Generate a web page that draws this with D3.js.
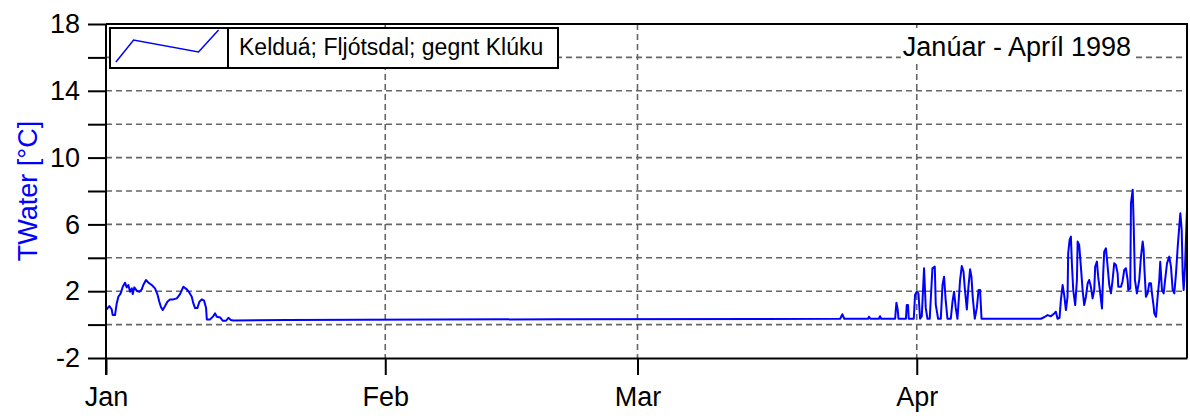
<!DOCTYPE html>
<html>
<head>
<meta charset="utf-8">
<script src="https://cdn.jsdelivr.net/npm/d3@7"></script>
<style>
  body { margin: 0; background: #fff; }
  svg { display: block; font-family: "Liberation Sans", Arial, sans-serif; }
  .grid line { stroke: #666; stroke-width: 1.6; stroke-dasharray: 6,4; }
</style>
</head>
<body>
<div id="chart"></div>
<script>
/* DATA */
// time in days since 1 Jan 1998, water temperature in °C
const days = [
  0, 0.37, 0.63, 0.74, 1.0, 1.19, 1.37, 1.63, 1.86, 2.11, 2.3, 2.48, 2.67, 2.86, 2.97,
  3.14, 3.41, 3.7, 3.97, 4.14, 4.44, 4.7, 5.08, 5.44, 5.7, 5.92, 6.11, 6.3, 6.56, 6.81,
  7.11, 7.48, 7.86, 8.22, 8.59, 8.97, 9.26, 9.52, 9.7, 9.89, 10.14, 10.37, 10.63, 10.89,
  11.11, 11.19, 11.56, 11.92, 12.11, 12.3, 12.67, 12.97, 13.33, 13.59, 13.86, 14.14,
  20.0, 50.0, 81.5, 81.74, 81.95, 84.6, 84.7, 84.85, 85.8, 85.92, 86.05,
  87.6, 87.74, 87.89, 87.97, 88.8, 88.89, 89.03, 89.11, 89.67, 89.81, 90.0, 90.19,
  90.37, 90.56, 90.81, 91.0, 91.19, 91.44, 91.74, 92.0, 92.11, 92.37, 92.67, 92.86,
  93.03, 93.22, 93.41, 93.78, 93.97, 94.14, 94.33, 94.52, 94.81, 95.0, 95.19, 95.33,
  95.56, 95.74, 95.92, 96.07, 96.22, 96.44, 96.67, 96.86, 97.03, 97.19,
  103.78, 104.14, 104.52, 104.89, 105.26, 105.44, 105.63, 105.85,
  106.0, 106.19, 106.37, 106.56, 106.74, 106.81, 106.97, 107.11, 107.22, 107.37, 107.59,
  107.78, 107.86, 108.03, 108.22, 108.41, 108.59, 108.78, 108.97, 109.14, 109.33, 109.52,
  109.7, 109.81, 110.0, 110.14, 110.37, 110.56, 110.7, 110.81, 111.0, 111.19, 111.37,
  111.56, 111.74, 111.92, 112.11, 112.3, 112.37, 112.67, 112.85, 113.03, 113.22, 113.41,
  113.48, 113.7, 113.78, 113.97, 114.08, 114.22, 114.44, 114.7, 114.89, 115.08, 115.19,
  115.26, 115.44, 115.63, 115.81, 116.0, 116.11, 116.3, 116.37, 116.56, 116.74, 116.92,
  117.03, 117.22, 117.41, 117.59, 117.78, 118.03, 118.22, 118.41, 118.59, 118.78, 118.97,
  119.14, 119.26, 119.41, 119.52, 119.63, 119.78, 119.92, 120.0
];
const temps = [
  0.87, 1.11, 0.92, 0.57, 0.57, 1.27, 1.67, 1.87, 2.27, 2.51, 2.23, 2.37, 1.97, 2.17, 1.83,
  2.23, 2.03, 1.97, 2.11, 2.37, 2.67, 2.51, 2.37, 2.17, 1.83, 1.37, 1.04, 0.87, 1.11, 1.37,
  1.51, 1.51, 1.57, 1.83, 2.27, 2.11, 1.91, 1.67, 1.27, 0.99, 0.99, 1.37, 1.51, 1.43,
  0.99, 0.31, 0.31, 0.51, 0.67, 0.47, 0.43, 0.23, 0.23, 0.41, 0.28, 0.25,
  0.28, 0.32, 0.35, 0.62, 0.35, 0.35, 0.47, 0.35, 0.35, 0.5, 0.35,
  0.35, 1.31, 0.9, 0.35, 0.35, 1.17, 1.17, 0.35, 0.35, 1.77, 1.97, 1.87,
  0.35, 0.5, 3.37, 1.0, 0.35, 0.35, 3.37, 3.47, 1.2, 0.35, 0.35, 2.37,
  2.87, 1.4, 0.35, 0.35, 1.37, 1.97, 1.0, 0.35, 2.67, 3.51, 3.17, 2.2,
  0.91, 2.27, 3.31, 2.87, 1.6, 0.35, 1.0, 2.07, 2.07, 0.35,
  0.35, 0.44, 0.57, 0.5, 0.67, 0.77, 0.35, 0.4,
  1.47, 2.37, 1.77, 0.87, 1.67, 4.27, 5.07, 5.27, 3.67, 2.07, 1.17,
  2.67, 4.97, 4.77, 3.47, 2.07, 1.17, 1.67, 2.47, 2.67, 2.27, 1.57,
  2.07, 3.47, 3.77, 2.87, 1.87, 0.97, 3.07, 4.37, 4.57, 3.47, 2.37,
  1.87, 2.67, 3.67, 3.57, 3.07, 2.27, 2.27, 2.6, 3.27, 3.37, 2.67,
  2.07, 2.17, 7.27, 8.07, 6.07, 2.67, 1.87, 2.67, 4.07, 4.97, 4.47,
  3.47, 1.67, 1.87, 2.47, 2.47, 1.87, 1.07, 0.67, 0.47, 1.67, 2.67,
  3.77, 2.07, 1.87, 2.77, 3.67, 4.07, 3.47, 2.07, 1.87, 3.07, 4.67,
  5.87, 6.67, 5.67, 3.07, 2.07, 3.47, 5.67, 6.87
];
const yTicks = [-2, 0, 2, 4, 6, 8, 10, 12, 14, 16, 18];
const yLabels = [-2, 2, 6, 10, 14, 18];
const seriesName = "Kelduá; Fljótsdal; gegnt Klúku";
const periodTitle = "Janúar - Apríl 1998";
const axisTitle = "TWater [°C]";
// legend sample line, in fractions of the sample cell
const legendSample = [[0.05, 0.85], [0.2, 0.3], [0.75, 0.6], [0.92, 0.05]];

/* LAYOUT */
const width = 1190, height = 418;
const margin = { top: 24, right: 3, bottom: 60, left: 106 };

const t0 = Date.UTC(1998, 0, 1);
const points = days.map((d, i) => ({ date: new Date(t0 + d * 864e5), temp: temps[i] }));

const xScale = d3.scaleUtc()
  .domain([new Date(t0), new Date(Date.UTC(1998, 4, 1))])
  .range([margin.left, width - margin.right]);

const yScale = d3.scaleLinear()
  .domain([-2, 18])
  .range([height - margin.bottom, margin.top]);

const svg = d3.select("#chart")
  .append("svg")
  .attr("width", width)
  .attr("height", height);

const monthTicks = d3.utcMonth.range(new Date(t0), new Date(Date.UTC(1998, 4, 1)));

// grid
const grid = svg.append("g").attr("class", "grid");
grid.selectAll("line.h")
  .data(yTicks.filter(d => d > -2 && d < 18))
  .join("line")
  .attr("class", "h")
  .attr("x1", margin.left)
  .attr("x2", width - margin.right)
  .attr("y1", d => yScale(d))
  .attr("y2", d => yScale(d));
grid.selectAll("line.v")
  .data(monthTicks.slice(1))
  .join("line")
  .attr("class", "v")
  .attr("x1", d => xScale(d))
  .attr("x2", d => xScale(d))
  .attr("y1", margin.top)
  .attr("y2", height - margin.bottom);

// data line
svg.append("clipPath").attr("id", "clip")
  .append("rect")
  .attr("x", margin.left).attr("y", margin.top)
  .attr("width", width - margin.right - margin.left)
  .attr("height", height - margin.bottom - margin.top);

const line = d3.line()
  .x(d => xScale(d.date))
  .y(d => yScale(d.temp));

svg.append("path")
  .datum(points)
  .attr("clip-path", "url(#clip)")
  .attr("fill", "none")
  .attr("stroke", "#0000ff")
  .attr("stroke-width", 2)
  .attr("stroke-linejoin", "round")
  .attr("d", line);

// frame
svg.append("path")
  .attr("fill", "none")
  .attr("stroke", "#000")
  .attr("stroke-width", 2)
  .attr("d", `M${margin.left},${margin.top}H${width - margin.right}V${height - margin.bottom}`);

// axes
const yAxis = d3.axisLeft(yScale)
  .tickValues(yTicks)
  .tickSize(18)
  .tickSizeOuter(0)
  .tickPadding(8)
  .tickFormat(d => yLabels.includes(d) ? d : "");

const yG = svg.append("g")
  .attr("transform", `translate(${margin.left},0)`)
  .call(yAxis);

const xAxis = d3.axisBottom(xScale)
  .tickValues(monthTicks)
  .tickSize(17)
  .tickSizeOuter(0)
  .tickPadding(12)
  .tickFormat(d3.utcFormat("%b"));

const xG = svg.append("g")
  .attr("transform", `translate(0,${height - margin.bottom})`)
  .call(xAxis);

[yG, xG].forEach(g => {
  g.select(".domain").attr("stroke", "#000").attr("stroke-width", 2);
  g.selectAll(".tick line").attr("stroke", "#000").attr("stroke-width", 2);
  g.selectAll(".tick text")
    .attr("fill", "#000")
    .attr("font-size", 27)
    .attr("font-family", "'Liberation Sans', Arial, sans-serif");
});
// left axis runs down past the x axis like the Jan tick
yG.select(".domain").attr("d", `M0,${margin.top}V${height - margin.bottom + 17}`);

// y axis title
svg.append("text")
  .attr("transform", `translate(37,${(margin.top + height - margin.bottom) / 2}) rotate(-90)`)
  .attr("text-anchor", "middle")
  .attr("fill", "#0000ff")
  .attr("font-size", 27)
  .text(axisTitle);

// period title with white background
const title = svg.append("g");
const titleText = title.append("text")
  .attr("x", 1131)
  .attr("y", 56)
  .attr("text-anchor", "end")
  .attr("font-size", 27)
  .attr("fill", "#000")
  .text(periodTitle);
const tb = titleText.node().getBBox();
title.insert("rect", "text")
  .attr("x", tb.x - 2)
  .attr("y", 28)
  .attr("width", tb.width + 4)
  .attr("height", 32)
  .attr("fill", "#fff");

// legend
const legend = svg.append("g");
const lgX = 110, lgY = 28, lgW = 448, lgH = 40, cellW = 118;
legend.append("rect")
  .attr("x", lgX).attr("y", lgY)
  .attr("width", lgW).attr("height", lgH)
  .attr("fill", "#fff")
  .attr("stroke", "#000")
  .attr("stroke-width", 2);
legend.append("line")
  .attr("x1", lgX + cellW).attr("x2", lgX + cellW)
  .attr("y1", lgY).attr("y2", lgY + lgH)
  .attr("stroke", "#000")
  .attr("stroke-width", 2);
legend.append("path")
  .attr("fill", "none")
  .attr("stroke", "#0000ff")
  .attr("stroke-width", 1.5)
  .attr("d", d3.line()
    .x(d => lgX + d[0] * cellW)
    .y(d => lgY + d[1] * lgH)(legendSample));
legend.append("text")
  .attr("x", lgX + cellW + 11)
  .attr("y", lgY + 27)
  .attr("font-size", 23)
  .attr("fill", "#000")
  .text(seriesName);
</script>
</body>
</html>
